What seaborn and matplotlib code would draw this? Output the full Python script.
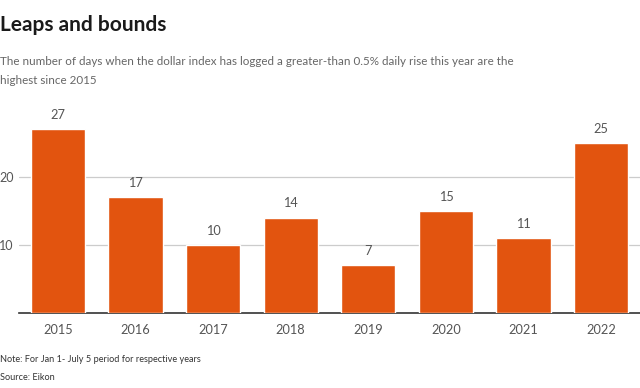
import matplotlib
matplotlib.use("Agg")
import matplotlib.pyplot as plt
import seaborn as sns
import pandas as pd

years = ["2015", "2016", "2017", "2018", "2019", "2020", "2021", "2022"]
days = [27, 17, 10, 14, 7, 15, 11, 25]
yticks = [10, 20]

title = "Leaps and bounds"
subtitle = ("The number of days when the dollar index has logged a greater-than 0.5% daily rise this year are the\n"
            "highest since 2015")
note = "Note: For Jan 1- July 5 period for respective years"
source = "Source: Eikon"

sns.set_theme(style="white")
plt.rcParams['font.family'] = ['Lato', 'DejaVu Sans']

df = pd.DataFrame({"year": years, "days": days})

fig = plt.figure(figsize=(6.4, 3.88), dpi=100)
ax = fig.add_axes([19/640, 1 - 313/388, 1 - 19/640, (313 - 109)/388])
sns.barplot(data=df, x="year", y="days", color="#e2540f", saturation=1, width=0.7, ax=ax, zorder=3)

ax.set_xlim(-0.5, 7.5)
ax.set_ylim(0, 30)
ax.set_yticks(yticks)
ax.set_yticklabels([str(t) for t in yticks])
ax.yaxis.grid(True, color="#cccccc", linewidth=0.9, zorder=0)
ax.set_axisbelow(True)
for s in ["top", "right", "left"]:
    ax.spines[s].set_visible(False)
ax.spines["bottom"].set_color("#333333")
ax.spines["bottom"].set_linewidth(1.2)
ax.set_xlabel("")
ax.set_ylabel("")
ax.tick_params(axis="x", length=0, pad=8, labelsize=9.2, labelcolor="#555555")
ax.tick_params(axis="y", length=0, pad=4, labelsize=9, labelcolor="#555555")

for c in ax.containers:
    ax.bar_label(c, labels=[str(v) for v in days], padding=6, fontsize=9.2, color="#555555")

fig.text(0, 1 - 31/388, title, fontsize=15, fontweight="bold", color="#1a1a1a", ha="left", va="baseline")
fig.text(0, 1 - 65/388, subtitle.split("\n")[0], fontsize=8.4, color="#666666", ha="left", va="baseline")
fig.text(0, 1 - 84/388, subtitle.split("\n")[1], fontsize=8.4, color="#666666", ha="left", va="baseline")
fig.text(0, 1 - 362/388, note, fontsize=6.6, color="#333333", ha="left", va="baseline")
fig.text(0, 1 - 380/388, source, fontsize=6.6, color="#333333", ha="left", va="baseline")

fig.savefig("out.png", dpi=100)
